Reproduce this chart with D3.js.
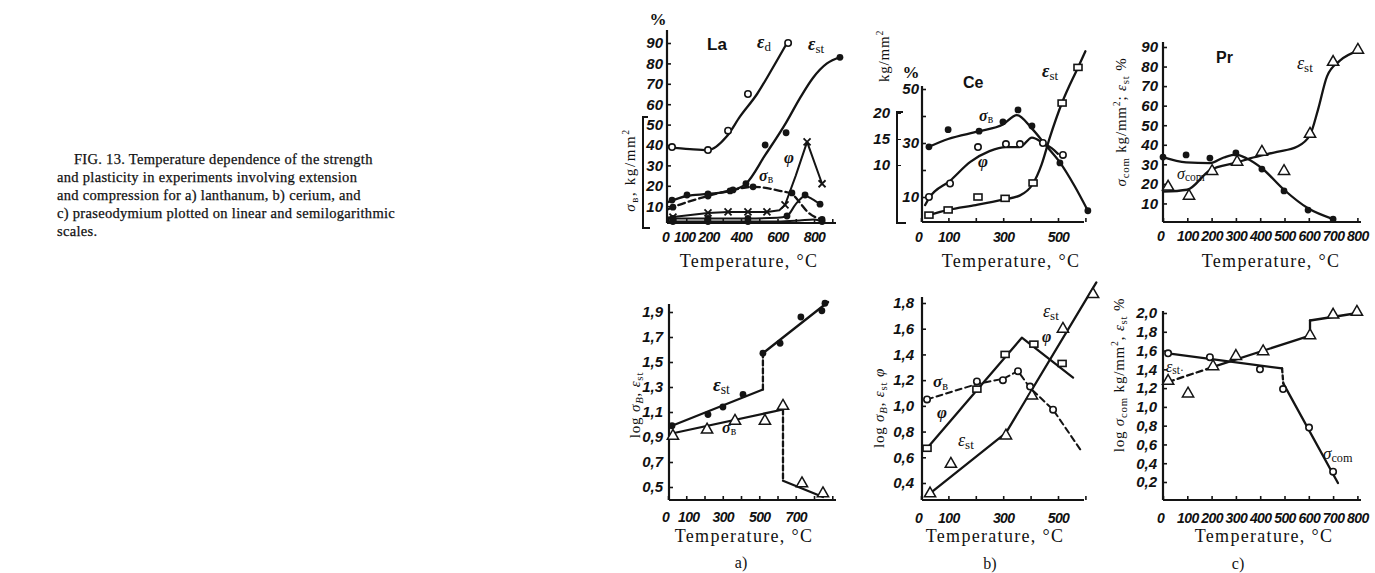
<!DOCTYPE html>
<html>
<head>
<meta charset="utf-8">
<script src="https://cdn.jsdelivr.net/npm/d3@7"></script>
<style>
body { margin: 0; background: #fff; }
svg text { fill: #111; }
</style>
</head>
<body>
<svg id="chart" width="1375" height="573"></svg>
<script>
var ink = "#141414";

// ---------- caption ----------
var captionLines = [
	"FIG. 13.  Temperature dependence of the strength",
	"and plasticity in experiments involving extension",
	"and compression for  a) lanthanum,  b) cerium,  and",
	"c) praseodymium plotted on linear and semilogarithmic",
	"scales."
];

// ---------- a) lanthanum, linear ----------
var laTempTicks = [0, 100, 200, 300, 400, 500, 600, 700, 800, 900];
var laTempLabelsTop = [0, 100, 200, 400, 600, 800];
var laPctTicks = [10, 20, 30, 40, 50, 60, 70, 80, 90];
var laEdPts = [[22, 39], [219, 37.5], [329, 47], [438, 65], [658, 90]];
var laEdLine = [[0, 39], [120, 38], [220, 37.5], [320, 44], [395, 54], [488, 65], [575, 78], [652, 90]];
var laEstPts = [[22, 13], [104, 15.5], [219, 16], [340, 17.5], [427, 21], [532, 40], [647, 46], [942, 83]];
var laEstLine = [[0, 12], [104, 15], [219, 16], [340, 17.5], [427, 21], [532, 35], [647, 51], [723, 63], [795, 73], [871, 80], [942, 83]];
var laSigPts = [[27, 9.5], [219, 15], [356, 18], [466, 19.5], [679, 16.5], [844, 3.5]];
var laSigLine = [[0, 8.5], [27, 9.5], [219, 15], [356, 18], [466, 19.5], [614, 17.5], [679, 16], [720, 12], [767, 7], [844, 3.5]];
var laPhiPts = [[27, 4.7], [219, 6.7], [329, 7.2], [438, 7.2], [542, 7.2], [641, 10.6], [762, 41.5], [844, 21]];
var laPhiLine = [[0, 4.5], [27, 4.7], [219, 6.7], [329, 7.2], [438, 7.2], [542, 7.2], [610, 8], [641, 10.6], [700, 25], [762, 41.5], [844, 21]];
var laPsiPts = [[27, 4], [219, 4], [438, 4], [652, 5.2], [751, 15.5], [833, 11]];
var laPsiLine = [[0, 4], [219, 4], [438, 4], [600, 4.3], [652, 5.2], [700, 11], [751, 15], [790, 13.5], [833, 11]];
var laBasePts = [[27, 2.5], [219, 2.5], [438, 2.5], [844, 2.5]];
var laBaseLine = [[0, 2.5], [219, 2.5], [438, 2.5], [600, 2.5], [720, 3], [800, 3.5], [844, 2.5]];

// ---------- a) lanthanum, log ----------
var laTempLabelsBot = [0, 100, 300, 500, 700];
var laLogTicks = [0.5, 0.7, 0.9, 1.1, 1.3, 1.5, 1.7, 1.9];
var laLogEstPts = [[22, 0.99], [219, 1.08], [301, 1.14], [411, 1.24], [520, 1.57], [614, 1.65], [728, 1.86], [843, 1.91], [860, 1.97]];
var laLogEstLow = [[22, 0.99], [520, 1.28]];
var laLogEstJump = [[520, 1.28], [520, 1.57]];
var laLogEstHigh = [[520, 1.57], [877, 1.98]];
var laLogSigPts = [[27, 0.9], [214, 0.95], [367, 1.02], [531, 1.02], [630, 1.14], [734, 0.52], [849, 0.44]];
var laLogSigLow = [[27, 0.93], [630, 1.12]];
var laLogSigJump = [[630, 1.12], [630, 0.55]];
var laLogSigHigh = [[630, 0.55], [849, 0.42]];

// ---------- b) cerium, linear ----------
var ceTempTicks = [0, 100, 200, 300, 400, 500, 600];
var ceTempLabels = [0, 100, 300, 500];
var cePctTicks = [10, 20, 30, 40, 50];
var cePctLabels = [10, 30, 50];
var ceKgTicks = [10, 15, 20];
var ceSigPts = [[29, 13.5], [99, 16.8], [212, 16.5], [299, 18.3], [354, 20.6], [405, 17.5], [507, 10.4], [609, 1.2]];
var ceSigLine = [[29, 13.5], [99, 15], [212, 16.5], [299, 17.8], [350, 19.6], [405, 17], [460, 13.5], [507, 10.5], [560, 6], [609, 1.2]];
var cePhiPts = [[29, 10], [106, 15], [208, 28.5], [310, 29.6], [361, 29.6], [445, 30], [518, 25.6]];
var cePhiLine = [[15, 7], [29, 9.5], [106, 16], [180, 23], [250, 27], [310, 28.5], [361, 28.5], [405, 32], [445, 30], [478, 28], [500, 26]];
var ceEstPts = [[29, 3.3], [99, 5.2], [208, 10], [307, 9.5], [409, 15.2], [515, 44.8], [573, 58]];
var ceEstLine = [[29, 3.3], [99, 5.2], [200, 7], [299, 9], [360, 10.5], [409, 15], [440, 22], [470, 32], [515, 45], [573, 58], [600, 64]];

// ---------- b) cerium, log ----------
var ceLogTicks = [0.4, 0.6, 0.8, 1.0, 1.2, 1.4, 1.6, 1.8];
var ceLogEstPts = [[33, 0.31], [109, 0.54], [310, 0.76], [405, 1.07], [518, 1.59], [628, 1.86]];
var ceLogEstLine = [[33, 0.32], [310, 0.79], [640, 1.96]];
var ceLogPhiPts = [[22, 0.67], [204, 1.13], [307, 1.40], [412, 1.48], [515, 1.33]];
var ceLogPhiLine = [[22, 0.67], [368, 1.53], [555, 1.22]];
var ceLogSigPts = [[22, 1.05], [204, 1.19], [299, 1.20], [354, 1.27], [398, 1.15], [482, 0.97]];
var ceLogSigLine = [[22, 1.05], [204, 1.17], [299, 1.21], [354, 1.27], [398, 1.14], [482, 0.97], [588, 0.64]];

// ---------- c) praseodymium, linear ----------
var prTempTicks = [0, 100, 200, 300, 400, 500, 600, 700, 800];
var prPctTicks = [10, 20, 30, 40, 50, 60, 70, 80, 90];
var prSigPts = [[0, 33.7], [95, 34.8], [193, 33.2], [300, 35.8], [407, 27.6], [498, 16.4], [597, 6.6], [700, 2]];
var prSigLine = [[0, 33.7], [95, 31], [193, 30.6], [250, 33.5], [300, 35], [345, 33], [407, 28], [498, 17], [597, 7.5], [700, 2]];
var prEstPts = [[21, 18], [107, 13.3], [202, 26], [305, 30.7], [407, 35.8], [498, 26], [605, 45], [700, 81.8], [802, 88]];
var prEstLine = [[0, 16], [99, 17], [193, 27], [305, 31], [358, 33], [469, 36.4], [551, 39], [605, 45], [638, 58], [675, 75], [728, 83], [802, 88]];

// ---------- c) praseodymium, log ----------
var prLogTicks = [0.2, 0.4, 0.6, 0.8, 1.0, 1.2, 1.4, 1.6, 1.8, 2.0];
var prLogEstPts = [[21, 1.265], [103, 1.13], [206, 1.42], [300, 1.53], [412, 1.58], [605, 1.75], [700, 1.97], [798, 2.0]];
var prLogEstDash = [[21, 1.265], [200, 1.42]];
var prLogEstMid = [[200, 1.42], [605, 1.76]];
var prLogEstJump = [[605, 1.76], [605, 1.92]];
var prLogEstTop = [[605, 1.92], [802, 2.0]];
var prLogSigPts = [[21, 1.57], [193, 1.53], [399, 1.40], [494, 1.19], [601, 0.78], [700, 0.31]];
var prLogSigHigh = [[21, 1.57], [490, 1.41]];
var prLogSigJump = [[490, 1.41], [495, 1.25]];
var prLogSigLow = [[495, 1.25], [720, 0.19]];

// ---------- scales ----------
var xLa = d3.scaleLinear().domain([0, 950]).range([668, 841.4]);
var yLaPct = d3.scaleLinear().domain([0, 90]).range([226.6, 43]);
var yLaLog = d3.scaleLinear().domain([0.4, 1.9]).range([499.5, 312]);
var xCe = d3.scaleLinear().domain([0, 600]).range([921, 1085.4]);
var yCePct = d3.scaleLinear().domain([0, 50]).range([224, 89]);
var yCeKg = d3.scaleLinear().domain([10, 20]).range([165, 113]);
var yCeLog = d3.scaleLinear().domain([0.4, 1.8]).range([483, 303]);
var xPr = d3.scaleLinear().domain([0, 800]).range([1163, 1357.4]);
var yPrPct = d3.scaleLinear().domain([0, 90]).range([223, 47]);
var yPrLog = d3.scaleLinear().domain([0.2, 2.0]).range([482, 313]);

var svg = d3.select("#chart");
var comma = function(d){ return d3.format(".1f")(d).replace(".", ","); };
var tickFont = "Liberation Sans, Arial, sans-serif";

// ---------- helpers ----------
function leftAxis(x0, scale, ticks, fmt, top, bottom, pad){
	var g = svg.append("g")
		.attr("transform", "translate(" + x0 + ",0)")
		.call(d3.axisLeft(scale).tickValues(ticks).tickFormat(fmt)
			.tickSizeInner(-4).tickSizeOuter(0).tickPadding(pad));
	g.select(".domain").remove();
	g.attr("color", ink).attr("font-family", tickFont)
		.attr("font-size", 15).attr("font-style", "italic").attr("font-weight", "bold");
	g.selectAll(".tick line").attr("stroke-width", 1.6);
	svg.append("line").attr("x1", x0).attr("x2", x0).attr("y1", top).attr("y2", bottom)
		.attr("stroke", ink).attr("stroke-width", 2.2);
	return g;
}

function bottomAxis(y0, scale, ticks, labels, left, right, pad, nudge){
	nudge = nudge || {};
	var g = svg.append("g")
		.attr("transform", "translate(0," + y0 + ")")
		.call(d3.axisBottom(scale).tickValues(ticks)
			.tickFormat(function(d){ return labels.indexOf(d) >= 0 ? d : ""; })
			.tickSizeInner(-4).tickSizeOuter(0).tickPadding(pad));
	g.select(".domain").remove();
	g.attr("color", ink).attr("font-family", tickFont)
		.attr("font-size", 14).attr("font-style", "italic").attr("font-weight", "bold")
		.attr("letter-spacing", -0.6);
	g.selectAll(".tick text").attr("dx", function(d){ return nudge[d] || 0; });
	g.selectAll(".tick line").attr("stroke-width", 1.6);
	svg.append("line").attr("x1", left).attr("x2", right).attr("y1", y0).attr("y2", y0)
		.attr("stroke", ink).attr("stroke-width", 2.2);
	return g;
}

function path(pts, xs, ys, curve, dash, width){
	var line = d3.line().x(function(d){ return xs(d[0]); }).y(function(d){ return ys(d[1]); })
		.curve(curve || d3.curveLinear);
	svg.append("path").datum(pts).attr("d", line)
		.attr("fill", "none").attr("stroke", ink)
		.attr("stroke-width", width || 2.3)
		.attr("stroke-linecap", "round").attr("stroke-linejoin", "round")
		.attr("stroke-dasharray", dash || null);
}

function marks(pts, xs, ys, type){
	var g = svg.append("g");
	pts.forEach(function(d){
		var cx = xs(d[0]), cy = ys(d[1]);
		if (type === "dot"){
			g.append("circle").attr("cx", cx).attr("cy", cy).attr("r", 3.4).attr("fill", ink);
		} else if (type === "circle"){
			g.append("circle").attr("cx", cx).attr("cy", cy).attr("r", 3.2)
				.attr("fill", "#fff").attr("stroke", ink).attr("stroke-width", 1.6);
		} else if (type === "tri"){
			g.append("path").attr("d", d3.symbol(d3.symbolTriangle, 55)())
				.attr("transform", "translate(" + cx + "," + (cy - 1) + ")")
				.attr("fill", "#fff").attr("stroke", ink).attr("stroke-width", 1.5);
		} else if (type === "sq"){
			g.append("rect").attr("x", cx - 4).attr("y", cy - 3).attr("width", 8).attr("height", 6)
				.attr("fill", "#fff").attr("stroke", ink).attr("stroke-width", 1.6);
		} else if (type === "x"){
			g.append("path").attr("d", "M" + (cx - 3.5) + "," + (cy - 3.5) + "L" + (cx + 3.5) + "," + (cy + 3.5)
				+ "M" + (cx - 3.5) + "," + (cy + 3.5) + "L" + (cx + 3.5) + "," + (cy - 3.5))
				.attr("stroke", ink).attr("stroke-width", 1.8);
		}
	});
}

// text with italic symbol and upright subscript
function annot(x, y, main, sub, size, opts){
	opts = opts || {};
	var t = svg.append("text").attr("x", x).attr("y", y)
		.attr("font-family", "Liberation Serif, serif").attr("font-size", size)
		.attr("text-anchor", opts.anchor || "start");
	t.append("tspan").attr("font-style", "italic").attr("font-weight", opts.bold ? "bold" : null).text(main);
	if (sub) t.append("tspan").attr("font-size", size * 0.72).attr("dy", size * 0.15).text(sub);
	return t;
}

function rotLabel(x, y, parts, size, ls){
	var t = svg.append("text").attr("x", x).attr("y", y)
		.attr("transform", "rotate(-90," + x + "," + y + ")")
		.attr("text-anchor", "middle")
		.attr("font-family", "Liberation Serif, serif").attr("font-size", size)
		.attr("letter-spacing", ls == null ? 0.8 : ls);
	parts.forEach(function(p){
		var s = t.append("tspan").text(p.t);
		if (p.it) s.attr("font-style", "italic");
		if (p.sub) s.attr("font-size", size * 0.72).attr("dy", size * 0.18);
		if (p.up) s.attr("dy", -size * 0.18);
		if (p.sup) s.attr("font-size", size * 0.65).attr("dy", -size * 0.4);
		if (p.down) s.attr("dy", size * 0.4);
	});
	return t;
}

function plainText(x, y, txt, size, opts){
	opts = opts || {};
	return svg.append("text").attr("x", x).attr("y", y)
		.attr("font-family", opts.family || "Liberation Serif, serif")
		.attr("font-size", size)
		.attr("font-weight", opts.bold ? "bold" : null)
		.attr("letter-spacing", opts.ls || 0)
		.attr("text-anchor", opts.anchor || "start")
		.text(txt);
}

// ---------- caption ----------
captionLines.forEach(function(s, i){
	plainText(i === 0 ? 74 : 57, 164 + i * 18, s, 14.5, {ls: 0.3})
		.attr("stroke", "#111").attr("stroke-width", 0.25);
});

// ================= a) top =================
leftAxis(667, yLaPct, laPctTicks, d3.format("d"), 30, 223, 4);
bottomAxis(223, xLa, laTempTicks, laTempLabelsTop, 667, 836, 9, {0: -3, 100: -2, 200: 4});
svg.append("path").attr("d", "M648,117 L643,117 L643,228 L650,228")
	.attr("fill", "none").attr("stroke", ink).attr("stroke-width", 2);
plainText(658, 25, "%", 17, {anchor: "middle", bold: true});
rotLabel(635, 170, [{t: "σ", it: true}, {t: "в", sub: true}, {t: ", kg/mm", up: true}, {t: "2", sup: true}], 15, 1.6);

path(laEdLine, xLa, yLaPct, d3.curveMonotoneX);
marks(laEdPts, xLa, yLaPct, "circle");
path(laEstLine, xLa, yLaPct, d3.curveMonotoneX);
marks(laEstPts, xLa, yLaPct, "dot");
path(laSigLine, xLa, yLaPct, d3.curveMonotoneX, "7,4");
marks(laSigPts, xLa, yLaPct, "dot");
path(laPhiLine, xLa, yLaPct, d3.curveLinear, null, 2);
marks(laPhiPts, xLa, yLaPct, "x");
path(laPsiLine, xLa, yLaPct, d3.curveMonotoneX, null, 2);
marks(laPsiPts, xLa, yLaPct, "dot");
path(laBaseLine, xLa, yLaPct, d3.curveMonotoneX, null, 2);
marks(laBasePts, xLa, yLaPct, "dot");

plainText(707, 50, "La", 17, {family: "Liberation Sans, Arial, sans-serif", bold: true});
annot(757, 48, "ε", "d", 18, {bold: true});
annot(808, 50, "ε", "st", 18, {bold: true});
annot(784, 163, "φ", null, 17, {bold: true});
annot(759, 181, "σ", "в", 16, {bold: true});
plainText(749, 267, "Temperature, °C", 18, {anchor: "middle", ls: 1.3});

// ================= a) bottom =================
leftAxis(669, yLaLog, laLogTicks, comma, 304, 500, 6);
bottomAxis(500, xLa, laTempTicks, laTempLabelsBot, 669, 836, 12, {0: -3, 100: 2});
rotLabel(640, 405, [{t: "log "}, {t: "σ", it: true}, {t: "B", sub: true, it: true}, {t: ", ", up: true}, {t: "ε", it: true}, {t: "st", sub: true}], 15);

path(laLogEstLow, xLa, yLaLog);
path(laLogEstJump, xLa, yLaLog, null, "5,3");
path(laLogEstHigh, xLa, yLaLog);
marks(laLogEstPts, xLa, yLaLog, "dot");
path(laLogSigLow, xLa, yLaLog);
path(laLogSigJump, xLa, yLaLog, null, "5,3");
path(laLogSigHigh, xLa, yLaLog);
marks(laLogSigPts, xLa, yLaLog, "tri");

annot(713, 391, "ε", "st", 19, {bold: true});
annot(722, 433, "σ", "в", 16, {bold: true});
plainText(744, 542, "Temperature, °C", 18, {anchor: "middle", ls: 1.3});
plainText(741, 568, "a)", 16, {anchor: "middle"});

// ================= b) top =================
leftAxis(922, yCePct, cePctTicks, function(d){ return cePctLabels.indexOf(d) >= 0 ? d : ""; }, 86, 222, 3);
bottomAxis(222, xCe, ceTempTicks, ceTempLabels, 922, 1084, 10, {0: -3});
var kgAx = svg.append("g").attr("transform", "translate(897,0)")
	.call(d3.axisLeft(yCeKg).tickValues(ceKgTicks).tickSizeInner(-4).tickSizeOuter(0).tickPadding(7));
kgAx.select(".domain").remove();
kgAx.attr("color", ink).attr("font-family", tickFont).attr("font-size", 15)
	.attr("font-style", "italic").attr("font-weight", "bold");
svg.append("path").attr("d", "M903,112 L897,112 L897,223 L906,223")
	.attr("fill", "none").attr("stroke", ink).attr("stroke-width", 2);
plainText(911, 78, "%", 17, {anchor: "middle", bold: true});
rotLabel(889, 56, [{t: "kg/mm"}, {t: "2", sup: true}], 15);

path(ceSigLine, xCe, yCeKg, d3.curveMonotoneX);
marks(ceSigPts, xCe, yCeKg, "dot");
path(cePhiLine, xCe, yCePct, d3.curveMonotoneX);
marks(cePhiPts, xCe, yCePct, "circle");
path(ceEstLine, xCe, yCePct, d3.curveMonotoneX);
marks(ceEstPts, xCe, yCePct, "sq");

plainText(963, 88, "Ce", 16, {family: "Liberation Sans, Arial, sans-serif", bold: true});
annot(979, 121, "σ", "в", 16, {bold: true});
annot(978, 167, "φ", null, 17, {bold: true});
annot(1042, 77, "ε", "st", 18, {bold: true});
plainText(1011, 267, "Temperature, °C", 18, {anchor: "middle", ls: 1.3});

// ================= b) bottom =================
leftAxis(922, yCeLog, ceLogTicks, comma, 297, 500, 8);
bottomAxis(500, xCe, ceTempTicks, ceTempLabels, 922, 1084, 13, {0: -3});
rotLabel(884, 408, [{t: "log "}, {t: "σ", it: true}, {t: "B", sub: true, it: true}, {t: ", ", up: true}, {t: "ε", it: true}, {t: "st", sub: true}, {t: " φ", up: true, it: true}], 15);

path(ceLogEstLine, xCe, yCeLog);
marks(ceLogEstPts, xCe, yCeLog, "tri");
path(ceLogPhiLine, xCe, yCeLog);
marks(ceLogPhiPts, xCe, yCeLog, "sq");
path(ceLogSigLine, xCe, yCeLog, null, "6,4", 2);
marks(ceLogSigPts, xCe, yCeLog, "circle");

annot(1043, 317, "ε", "st", 18);
annot(1042, 342, "φ", null, 16, {bold: true});
annot(933, 387, "σ", "в", 17, {bold: true});
annot(937, 418, "φ", null, 17, {bold: true});
annot(958, 446, "ε", "st", 18);
plainText(995, 542, "Temperature, °C", 18, {anchor: "middle", ls: 1.3});
plainText(990, 569, "b)", 16, {anchor: "middle"});

// ================= c) top =================
leftAxis(1163, yPrPct, prPctTicks, d3.format("d"), 42, 222, 5);
bottomAxis(222, xPr, prTempTicks, prTempTicks, 1163, 1361, 9, {0: -3});
rotLabel(1126, 122, [{t: "σ", it: true}, {t: "com", sub: true}, {t: " kg/mm", up: true}, {t: "2", sup: true}, {t: "; ", down: true}, {t: "ε", it: true}, {t: "st", sub: true}, {t: " %", up: true}], 15);

path(prSigLine, xPr, yPrPct, d3.curveMonotoneX);
marks(prSigPts, xPr, yPrPct, "dot");
path(prEstLine, xPr, yPrPct, d3.curveMonotoneX);
marks(prEstPts, xPr, yPrPct, "tri");

plainText(1216, 63, "Pr", 16, {family: "Liberation Sans, Arial, sans-serif", bold: true});
annot(1297, 69, "ε", "st", 18);
annot(1177, 179, "σ", "com", 16);
plainText(1271, 267, "Temperature, °C", 18, {anchor: "middle", ls: 1.3});

// ================= c) bottom =================
leftAxis(1163, yPrLog, prLogTicks, comma, 311, 500, 6);
bottomAxis(500, xPr, prTempTicks, prTempTicks, 1163, 1361, 13, {0: -3});
rotLabel(1124, 375, [{t: "log "}, {t: "σ", it: true}, {t: "com", sub: true}, {t: " kg/mm", up: true}, {t: "2", sup: true}, {t: ", ", down: true}, {t: "ε", it: true}, {t: "st", sub: true}, {t: " %", up: true}], 15);

path(prLogEstDash, xPr, yPrLog, null, "6,4");
path(prLogEstMid, xPr, yPrLog);
path(prLogEstJump, xPr, yPrLog);
path(prLogEstTop, xPr, yPrLog);
marks(prLogEstPts, xPr, yPrLog, "tri");
path(prLogSigHigh, xPr, yPrLog);
path(prLogSigJump, xPr, yPrLog, null, "4,3");
path(prLogSigLow, xPr, yPrLog);
marks(prLogSigPts, xPr, yPrLog, "circle");

annot(1166, 372, "ε", "st·", 16);
annot(1323, 459, "σ", "com", 17);
plainText(1264, 542, "Temperature, °C", 18, {anchor: "middle", ls: 1.3});
plainText(1238, 569, "c)", 16, {anchor: "middle"});
</script>
</body>
</html>
